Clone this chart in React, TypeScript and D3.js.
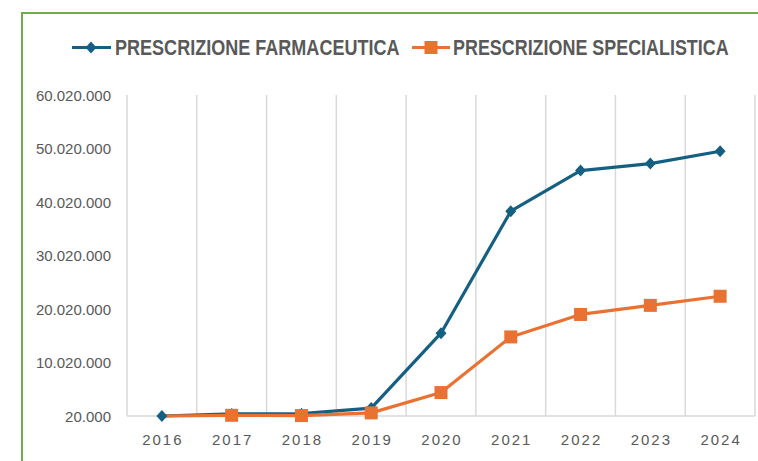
import React from "react";
import * as d3 from "d3";

const years = ["2016", "2017", "2018", "2019", "2020", "2021", "2022", "2023", "2024"];
const farmaceutica = [20000, 400000, 450000, 1500000, 15500000, 38300000, 45900000, 47200000, 49500000];
const specialistica = [20000, 150000, 100000, 600000, 4400000, 14800000, 19000000, 20700000, 22400000];
const specMarkerShown = [false, true, true, true, true, true, true, true, true];
const yTicks = [20000, 10020000, 20020000, 30020000, 40020000, 50020000, 60020000];
const seriesNames = ["PRESCRIZIONE FARMACEUTICA", "PRESCRIZIONE SPECIALISTICA"];

const W = 758;
const H = 461;
const BLUE = "#156082";
const ORANGE = "#E97132";
const TEXT = "#595959";
const GRID = "#D9D9D9";

const locale = d3.formatLocale({ decimal: ",", thousands: ".", grouping: [3], currency: ["", ""] });
const fmt = locale.format(",");

export default function App() {
  const x = d3.scaleBand<string>().domain(years).range([127, 755]).padding(0);
  const y = d3.scaleLinear().domain([20000, 60020000]).range([416, 95]);
  const cx = (i: number) => (x(years[i]) as number) + x.bandwidth() / 2;
  const line = d3
    .line<number>()
    .x((_, i) => cx(i))
    .y((d) => y(d));

  const boundaries = years.map((yy) => x(yy) as number).concat([755]);
  const diamond = (px: number, py: number, r = 5.5) =>
    `M${px},${py - r - 0.5} L${px + r},${py} L${px},${py + r + 0.5} L${px - r},${py} Z`;
  const sq = 13;

  return (
    <svg
      width={W}
      height={H}
      style={{ position: "absolute", left: 0, top: 0, background: "#fff" }}
      fontFamily="'Liberation Sans', Arial, sans-serif"
    >
      <rect x={0} y={0} width={W} height={H} fill="#fff" />
      <rect x={22} y={13} width={W} height={H} fill="#fff" stroke="#70AD47" strokeWidth={2} />

      {/* Legend */}
      <g>
        <line x1={72} x2={111} y1={47.5} y2={47.5} stroke={BLUE} strokeWidth={3} />
        <path d={diamond(91, 47.5)} fill={BLUE} />
        <g transform="translate(115,54.5) scale(0.82,1)">
          <text x={0} y={0} fontSize={22} fontWeight="bold" fill={TEXT}>
            {seriesNames[0]}
          </text>
        </g>
        <line x1={412} x2={450} y1={47.5} y2={47.5} stroke={ORANGE} strokeWidth={3} />
        <rect x={431 - sq / 2} y={47.5 - sq / 2} width={sq} height={sq} fill={ORANGE} />
        <g transform="translate(453,54.5) scale(0.815,1)">
          <text x={0} y={0} fontSize={22} fontWeight="bold" fill={TEXT}>
            {seriesNames[1]}
          </text>
        </g>
      </g>

      {/* Gridlines */}
      {boundaries.map((bx, i) => (
        <line key={i} x1={bx} x2={bx} y1={y(60020000)} y2={y(20000)} stroke={GRID} strokeWidth={1.5} />
      ))}
      <line x1={127} x2={755} y1={y(20000)} y2={y(20000)} stroke={GRID} strokeWidth={1.5} />

      {/* Y labels */}
      {yTicks.map((t) => (
        <text key={t} x={111} y={y(t)} dy="0.38em" textAnchor="end" fontSize={15} fill={TEXT}>
          {fmt(t)}
        </text>
      ))}

      {/* X labels */}
      {years.map((yy, i) => (
        <text key={yy} x={cx(i) + 1} y={445} textAnchor="middle" fontSize={15} letterSpacing={2} fill={TEXT}>
          {yy}
        </text>
      ))}

      {/* Lines */}
      <path d={line(farmaceutica) || ""} fill="none" stroke={BLUE} strokeWidth={3.2} strokeLinejoin="round" />
      <path d={line(specialistica) || ""} fill="none" stroke={ORANGE} strokeWidth={3.2} strokeLinejoin="round" />

      {/* Markers */}
      {farmaceutica.map((v, i) => (
        <path key={"f" + i} d={diamond(cx(i), y(v))} fill={BLUE} />
      ))}
      {specialistica.map((v, i) =>
        specMarkerShown[i] ? (
          <rect key={"s" + i} x={cx(i) - sq / 2} y={y(v) - sq / 2} width={sq} height={sq} fill={ORANGE} />
        ) : null
      )}
    </svg>
  );
}
